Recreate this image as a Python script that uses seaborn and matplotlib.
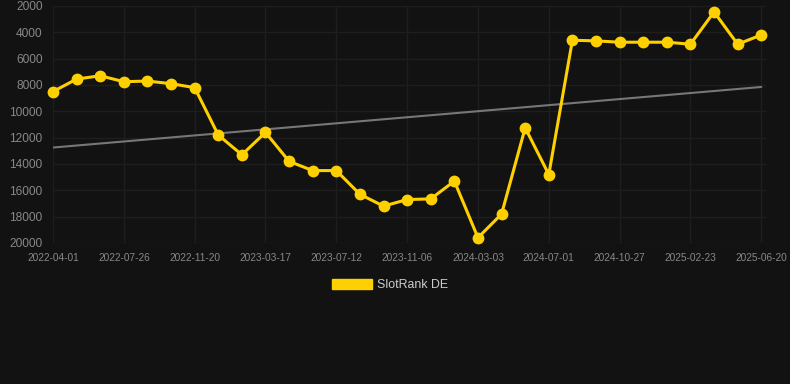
import numpy as np
import pandas as pd
import matplotlib
matplotlib.use("Agg")
import matplotlib.pyplot as plt
import matplotlib.patches as mpatches
import seaborn as sns

# data
dates = ["2022-04-01", "2022-05-09", "2022-06-17", "2022-07-26", "2022-09-02", "2022-10-11",
         "2022-11-20", "2022-12-28", "2023-02-05", "2023-03-17", "2023-04-25", "2023-06-03",
         "2023-07-12", "2023-08-19", "2023-09-28", "2023-11-06", "2023-12-15", "2024-01-23",
         "2024-03-03", "2024-04-11", "2024-05-22", "2024-07-01", "2024-08-08", "2024-09-17",
         "2024-10-27", "2024-12-04", "2025-01-14", "2025-02-23", "2025-04-02", "2025-05-11",
         "2025-06-20"]
rank = [8500, 7550, 7300, 7750, 7700, 7900, 8200, 11800, 13300, 11600, 13800, 14500,
        14500, 16300, 17200, 16700, 16650, 15300, 19600, 17800, 11250, 14800, 4600, 4650,
        4750, 4750, 4750, 4900, 2450, 4900, 4200]
trend_x = [0, 30]
trend_y = [12750, 8150]
tick_idx = list(range(0, 31, 3))
yticks = [2000, 4000, 6000, 8000, 10000, 12000, 14000, 16000, 18000, 20000]

bg = "#121212"
yellow = "#FFD000"

sns.set_theme(style="dark", rc={
    "figure.facecolor": bg, "axes.facecolor": bg, "axes.edgecolor": bg,
    "grid.color": "#1e1e1e", "axes.grid": True,
})
plt.rcParams["font.family"] = ["Liberation Sans", "DejaVu Sans"]

df = pd.DataFrame({"idx": np.arange(len(rank)), "rank": rank, "date": dates})

fig = plt.figure(figsize=(7.9, 3.84), dpi=100)
ax = fig.add_axes([53 / 790, 1 - 243 / 384, (766 - 53) / 790, (243 - 6) / 384])

sns.lineplot(x=trend_x, y=trend_y, ax=ax, color="#777777", linewidth=1.5)
sns.lineplot(data=df, x="idx", y="rank", ax=ax, color=yellow, linewidth=2.2,
             marker="o", markersize=8.5, markeredgewidth=0, clip_on=False, zorder=3)

ax.set_xlim(0, 30.2)
ax.set_ylim(20000, 2000)
ax.set_yticks(yticks)
ax.set_yticklabels([str(v) for v in yticks])
ax.set_xticks(tick_idx)
ax.set_xticklabels([dates[i] for i in tick_idx])
ax.tick_params(axis="y", colors="#888888", labelsize=8.6, length=0, pad=7.5)
ax.tick_params(axis="x", colors="#888888", labelsize=7.3, length=0, pad=7)
ax.grid(True, color="#1e1e1e", linewidth=1.0)
ax.set_xlabel("")
ax.set_ylabel("")
for s in ax.spines.values():
    s.set_visible(False)

handle = mpatches.Patch(color=yellow, label="SlotRank DE")
fig.legend(handles=[handle], loc="center", bbox_to_anchor=(390 / 790, 1 - 285 / 384),
           frameon=False, handlelength=3.25, handleheight=0.9, handletextpad=0.45,
           labelcolor="#cccccc", fontsize=8.9)

fig.savefig("out.png", dpi=100, facecolor=bg)
